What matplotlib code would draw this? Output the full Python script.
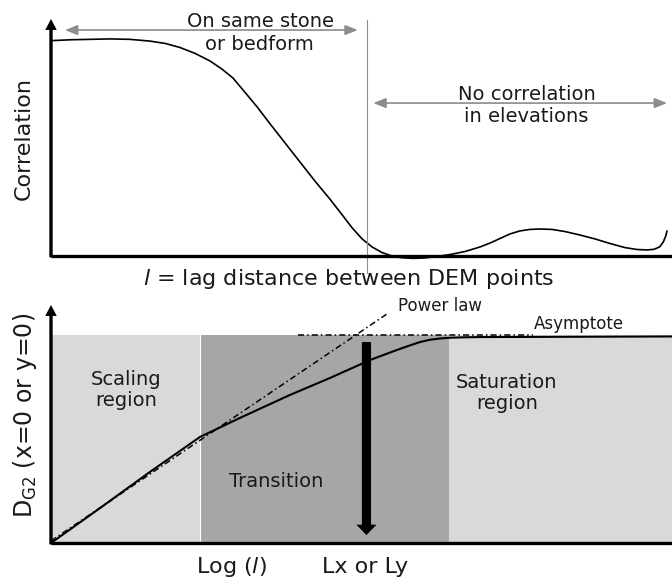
import numpy as np
import matplotlib
matplotlib.use("Agg")
import matplotlib.pyplot as plt

plt.rcParams["font.family"] = ["DejaVu Sans"]
plt.rcParams["mathtext.fontset"] = "dejavusans"

# ---- Upper panel: autocorrelation of elevations vs lag distance ----
lag = [0.000, 0.031, 0.063, 0.095, 0.127, 0.159, 0.184, 0.208, 0.232, 0.256,
       0.275, 0.293, 0.312, 0.332, 0.353, 0.377, 0.401, 0.425, 0.449, 0.469,
       0.485, 0.501, 0.517, 0.533, 0.549, 0.565, 0.583, 0.602, 0.622, 0.643,
       0.667, 0.691, 0.707, 0.723, 0.739, 0.755, 0.771, 0.787, 0.807, 0.828,
       0.852, 0.876, 0.900, 0.924, 0.944, 0.960, 0.971, 0.980, 0.986, 0.990,
       0.992]
corr = [0.997, 1.001, 1.003, 1.005, 1.003, 0.995, 0.984, 0.965, 0.938, 0.903,
        0.866, 0.824, 0.759, 0.690, 0.611, 0.523, 0.435, 0.347, 0.264, 0.190,
        0.130, 0.079, 0.042, 0.016, 0.000, -0.008, -0.011, -0.009, -0.002, 0.007,
        0.021, 0.042, 0.060, 0.081, 0.102, 0.116, 0.123, 0.125, 0.123, 0.113,
        0.097, 0.079, 0.058, 0.039, 0.030, 0.028, 0.031, 0.042, 0.065, 0.093,
        0.116]
decorrelation_lag = 0.509
same_stone_span = [0.0225, 0.494]
no_corr_span = [0.519, 0.992]

# ---- Lower panel: D_G2 vs log lag ----
log_l = [0.000, 0.079, 0.159, 0.240, 0.304, 0.385, 0.449, 0.514, 0.557, 0.578,
         0.594, 0.610, 0.626, 0.643, 0.667, 0.691, 1.000]
d_g2 = [0.000, 0.168, 0.341, 0.510, 0.601, 0.712, 0.793, 0.880, 0.928, 0.950,
        0.966, 0.977, 0.983, 0.987, 0.989, 0.990, 0.993]
power_law_x = [0.000, 0.541]
power_law_y = [0.010, 1.101]
asymptote_x = [0.398, 0.776]
asymptote_y = [1.0, 1.0]
region_starts = [0.000, 0.240, 0.641]
region_ends = [0.240, 0.641, 1.000]
region_colors = ["#d9d9d9", "#a6a6a6", "#d9d9d9"]
corner_lag = 0.508          # Lx or Ly
corner_arrow_d = [0.966, 0.038]

W, H = 672, 581
fig = plt.figure(figsize=(W / 100, H / 100), dpi=100)
ax1 = fig.add_axes([51 / W, (H - 256) / H, 621 / W, (256 - 19) / H])
ax2 = fig.add_axes([51 / W, (H - 543) / H, 621 / W, (543 - 305) / H])

AX_LW = 2.4


def style_axes(ax, ytop):
    ax.set_xlim(0, 1)
    ax.set_ylim(0, ytop)
    for s in ("top", "right", "left"):
        ax.spines[s].set_visible(False)
    ax.spines["bottom"].set_linewidth(AX_LW)
    ax.spines["bottom"].set_capstyle("butt")
    ax.set_xticks([])
    ax.set_yticks([])
    ax.patch.set_alpha(0)
    # vertical axis drawn as an arrow
    ax.annotate("", xy=(0, 1), xytext=(0, -0.006), xycoords="axes fraction",
                textcoords="axes fraction",
                arrowprops=dict(arrowstyle="simple,head_length=7.9,head_width=8.3,tail_width=2.4",
                                mutation_scale=1, color="black", lw=0,
                                shrinkA=0, shrinkB=0), annotation_clip=False)


style_axes(ax1, 1.0972)
style_axes(ax2, 1.1442)

# upper curve
ax1.plot(lag, corr, color="black", lw=1.2, clip_on=False,
         solid_capstyle="round", solid_joinstyle="round")
ax1.plot([decorrelation_lag, decorrelation_lag], [-0.079, 1.093], color="#8c8c8c",
         lw=0.8, clip_on=False)

gray = "#8c8c8c"
arrow_kw = dict(arrowstyle="<|-|>,head_length=0.75,head_width=0.3", mutation_scale=10,
                color=gray, lw=1.2, shrinkA=0, shrinkB=0)
ax1.annotate("", xy=(same_stone_span[0], 1.046), xytext=(same_stone_span[1], 1.046),
             arrowprops=arrow_kw, annotation_clip=False)
ax1.annotate("", xy=(no_corr_span[0], 0.708), xytext=(no_corr_span[1], 0.708),
             arrowprops=arrow_kw, annotation_clip=False)

txt = dict(fontsize=14, color="#1a1a1a", ha="center", va="baseline", clip_on=False)
ax1.text(0.338, 1.062, "On same stone", **txt)
ax1.text(0.336, 0.954, "or bedform", **txt)
ax1.text(0.766, 0.722, "No correlation", **txt)
ax1.text(0.766, 0.620, "in elevations", **txt)
ax1.text(0.480, -0.134, r"$\mathit{l}$ = lag distance between DEM points",
         fontsize=16, color="#1a1a1a", ha="center", va="baseline", clip_on=False)
ax1.text(-0.0435, 0.542, "Correlation", fontsize=16, color="#1a1a1a", rotation=90,
         ha="center", va="center")

# lower panel: regions
ax2.bar(region_starts, 1.0, width=np.subtract(region_ends, region_starts),
        align="edge", color=region_colors, edgecolor="none", zorder=0)
ax2.plot([region_ends[0]] * 2, [0, 1.0], color="white", lw=0.8, zorder=0.5)

ax2.plot(power_law_x, power_law_y, color="black", lw=1.1,
         dashes=(4, 2, 1, 2), clip_on=False, zorder=2)
ax2.plot(asymptote_x, asymptote_y, color="black", lw=1.1,
         dashes=(4, 2, 1, 2), clip_on=False, zorder=2)
ax2.plot(log_l, d_g2, color="black", lw=1.5, zorder=3, clip_on=False,
         solid_joinstyle="round")

ax2.annotate("", xy=(corner_lag, corner_arrow_d[1]), xytext=(corner_lag, corner_arrow_d[0]),
             arrowprops=dict(arrowstyle="simple,head_length=7.5,head_width=14.5,tail_width=6.6",
                             mutation_scale=1, color="black", lw=0,
                             shrinkA=0, shrinkB=0), zorder=4)

ctr = dict(fontsize=14, color="#1a1a1a", ha="center", va="center", clip_on=False)
ax2.text(0.121, 0.735, "Scaling\nregion", linespacing=1.15, **ctr)
ax2.text(0.363, 0.298, "Transition", **ctr)
ax2.text(0.734, 0.720, "Saturation\nregion", linespacing=1.15, **ctr)
ax2.text(0.291, -0.115, r"Log ($\mathit{l}$)", fontsize=16, color="#1a1a1a",
         ha="center", va="center", clip_on=False)
ax2.text(0.506, -0.115, "Lx or Ly", fontsize=16, color="#1a1a1a",
         ha="center", va="center", clip_on=False)
ax2.text(0.626, 1.14, "Power law", fontsize=12, color="#1a1a1a", ha="center",
         va="center", clip_on=False)
ax2.text(0.850, 1.055, "Asymptote", fontsize=12, color="#1a1a1a", ha="center",
         va="center", clip_on=False)
ax2.text(-0.042, 0.615, r"D$_{\mathregular{G2}}$ (x=0 or y=0)", fontsize=17,
         color="#1a1a1a", rotation=90, ha="center", va="center")

fig.savefig("out.png", dpi=100)
